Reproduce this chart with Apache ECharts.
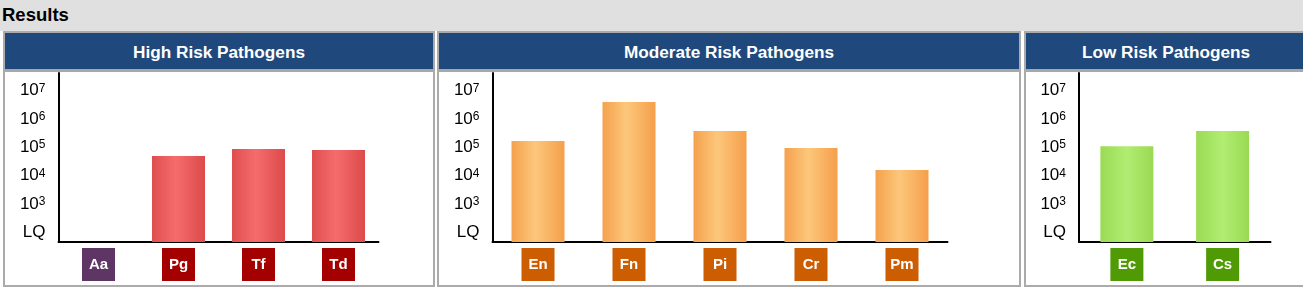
<!DOCTYPE html>
<html>
<head>
<meta charset="utf-8">
<script src="https://cdn.jsdelivr.net/npm/echarts@6/dist/echarts.min.js"></script>
<style>
  html, body { margin: 0; padding: 0; width: 1303px; height: 287px; overflow: hidden; background: #ffffff; font-family: "Liberation Sans", Arial, sans-serif; }
  #topbar { position: absolute; left: 0; top: 0; width: 1303px; height: 31px; background: #e0e0e0; }
  #results { position: absolute; left: 2px; top: 4px; font-size: 18.5px; font-weight: bold; color: #000; line-height: 22px; }
  .panel { position: absolute; top: 31px; height: 252px; border: 2px solid #ababab; background: #fff; box-sizing: content-box; }
  .hdr { position: absolute; left: 0; top: 0; right: 0; height: 36px; background: #1f497c; border-bottom: 3px solid #a8a8a8;
         color: #fff; font-weight: bold; font-size: 17.2px; text-align: center; line-height: 38px; }
  #chart { position: absolute; left: 0; top: 0; width: 1303px; height: 287px; }
</style>
</head>
<body>
<div id="topbar"></div>
<div id="results">Results</div>
<div class="panel" style="left:3px;width:428px;"><div class="hdr">High Risk Pathogens</div></div>
<div class="panel" style="left:437px;width:580px;"><div class="hdr">Moderate Risk Pathogens</div></div>
<div class="panel" style="left:1024px;width:280px;"><div class="hdr">Low Risk Pathogens</div></div>
<div id="chart"></div>
<script>
// ---- data ----
const highCategories = ['Aa', 'Pg', 'Tf', 'Td'];
const highValues = [null, 50000, 88000, 81000];
const highLabelColors = ['#5e3565', '#a50000', '#a50000', '#a50000'];

const moderateCategories = ['En', 'Fn', 'Pi', 'Cr', 'Pm'];
const moderateValues = [170000, 4000000, 380000, 95000, 16000];
const moderateLabelColors = ['#cc5d00', '#cc5d00', '#cc5d00', '#cc5d00', '#cc5d00'];

const lowCategories = ['Ec', 'Cs'];
const lowValues = [110000, 380000];
const lowLabelColors = ['#4f9a05', '#4f9a05'];

const tickExponents = [2, 3, 4, 5, 6, 7]; // 2 = LQ
const lqLabel = 'LQ';

// ---- axis scale (log10 units, shifted so the axis starts at its own base) ----
const LOG_MIN = 1.657;
const LOG_MAX = 7.629;

const barGradients = {
  high: [['#df4e4f', 0], ['#f56c6c', 0.45], ['#dd4a4b', 1]],
  moderate: [['#f5a14d', 0], ['#fcc77b', 0.45], ['#f59f4b', 1]],
  low: [['#9adb54', 0], ['#b0ed72', 0.5], ['#9ad953', 1]]
};

function grad(stops) {
  return new echarts.graphic.LinearGradient(0, 0, 1, 0, stops.map(s => ({ offset: s[1], color: s[0] })));
}

const panels = [
  { cats: highCategories, vals: highValues, colors: highLabelColors, grad: barGradients.high, left: 58.5, width: 320 },
  { cats: moderateCategories, vals: moderateValues, colors: moderateLabelColors, grad: barGradients.moderate, left: 492.5, width: 455 },
  { cats: lowCategories, vals: lowValues, colors: lowLabelColors, grad: barGradients.low, left: 1079, width: 191.5 }
];

const grids = [], xAxes = [], yAxes = [], series = [];
panels.forEach((p, i) => {
  grids.push({ left: p.left, top: 73, width: p.width, height: 169, containLabel: false });
  const rich = {};
  p.colors.forEach((c, j) => {
    rich['c' + j] = { backgroundColor: c, color: '#fff', fontWeight: 'bold', fontSize: 15, width: 33, height: 33, lineHeight: 33, align: 'center', fontFamily: 'Liberation Sans' };
  });
  xAxes.push({
    type: 'category', gridIndex: i, data: p.cats,
    axisLine: { show: true, lineStyle: { color: '#000', width: 2 } },
    axisTick: { show: false },
    splitLine: { show: false },
    axisLabel: {
      interval: 0, margin: 6,
      formatter: (v, idx) => '{c' + idx + '|' + v + '}',
      rich: rich
    }
  });
  yAxes.push({
    type: 'value', gridIndex: i, min: 0, max: LOG_MAX - LOG_MIN,
    axisLine: { show: true, onZero: false, lineStyle: { color: '#000', width: 2 } },
    axisTick: { show: false },
    splitLine: { show: false },
    axisLabel: {
      margin: 13,
      customValues: tickExponents.map(k => k - LOG_MIN),
      fontSize: 17, color: '#000', fontFamily: 'Liberation Sans',
      formatter: (v) => {
        const k = Math.round(v + LOG_MIN);
        return k === 2 ? lqLabel : '{b|10}{s|' + k + '}';
      },
      rich: {
        b: { fontSize: 17, lineHeight: 17, color: '#000', fontFamily: 'Liberation Sans' },
        s: { fontSize: 12, lineHeight: 12, color: '#000', verticalAlign: 'top', padding: [0, 0, 13, 0], fontFamily: 'Liberation Sans' }
      }
    }
  });
  series.push({
    type: 'bar', xAxisIndex: i, yAxisIndex: i, barWidth: 53,
    data: p.vals.map(v => (v == null ? null : Math.log10(v) - LOG_MIN)),
    itemStyle: { color: grad(p.grad) },
    animation: false, silent: true
  });
});

const chart = echarts.init(document.getElementById('chart'), null, { renderer: 'canvas' });
chart.setOption({
  backgroundColor: 'transparent',
  animation: false,
  textStyle: { fontFamily: 'Liberation Sans' },
  grid: grids, xAxis: xAxes, yAxis: yAxes, series: series
});
</script>
</body>
</html>
